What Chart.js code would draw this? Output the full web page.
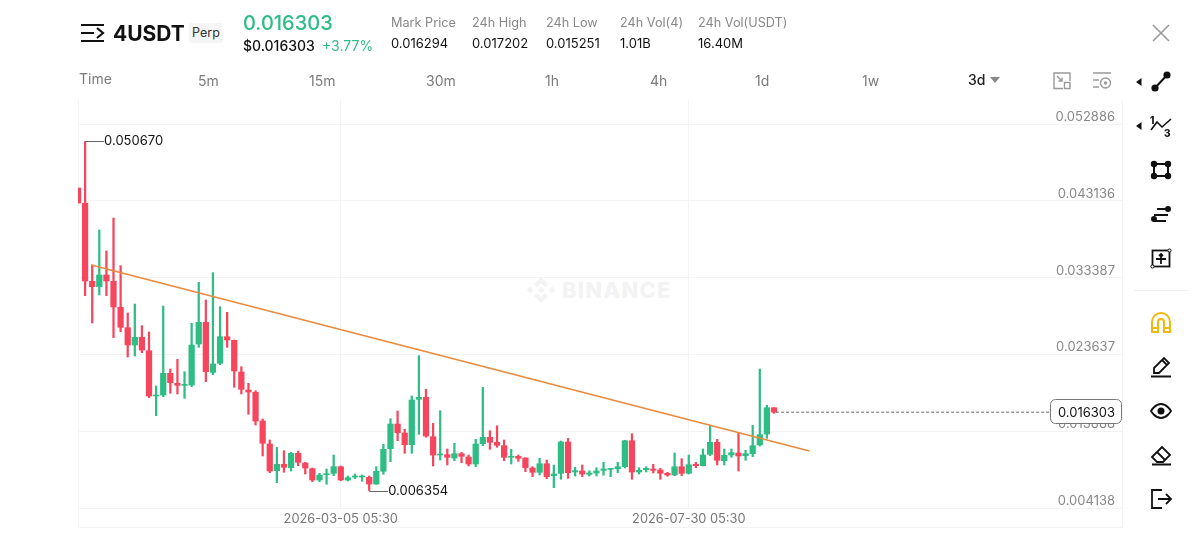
<!DOCTYPE html>
<html>
<head>
<meta charset="utf-8">
<script src="https://cdn.jsdelivr.net/npm/chart.js@4/dist/chart.umd.min.js"></script>
<style>
  html, body { margin: 0; padding: 0; background: #fff; }
  body { width: 1200px; height: 553px; overflow: hidden; position: relative; font-family: Inter, sans-serif; }
  canvas { position: absolute; left: 0; top: 0; }
  .t { position: absolute; white-space: nowrap; line-height: 1; transform: translateY(-50%); }
  .lab { font-size: 12.7px; color: #888; }
  .val { font-size: 13px; color: #111; }
  .tab { font-size: 14px; color: #7b7b7b; }
  svg.i { position: absolute; overflow: visible; }
</style>
</head>
<body>

<!-- watermark sits behind the canvas -->
<svg class="i" style="left:526px;top:277px" width="30" height="26" viewBox="0 0 30 26" fill="#f3f3f3">
  <path d="M15 0l7 7-3 3-4-4-4 4-3-3zM15 26l7-7-3-3-4 4-4-4-3 3zM15 9.5l3.500 3.500-3.500 3.500-3.500-3.500zM4 9.500l3.500 3.500-3.500 3.500-3.500-3.500zM26 9.500l3.500 3.500-3.500 3.500-3.500-3.500z"/>
</svg>
<div class="t" style="left:562px;top:290px;font-size:22px;font-weight:800;letter-spacing:1.2px;color:#f3f3f3">BINANCE</div>

<canvas id="chart" width="1200" height="553"></canvas>

<!-- header -->
<svg class="i" style="left:81px;top:23px" width="24" height="20" fill="none" stroke="#111" stroke-width="2.2">
  <path d="M0 2h23M0 10h13M0 18h23M16 5l6 5-6 5"/>
</svg>
<div class="t" style="left:113px;top:33px;font-size:21px;font-weight:700;color:#111">4USDT</div>
<div class="t" style="left:189px;top:33px;width:34px;height:20px;line-height:20px;background:#f5f5f5;border-radius:3px;text-align:center;font-size:12.5px;color:#333">Perp</div>
<div class="t" style="left:243px;top:23px;font-size:20px;font-weight:500;color:#2ebd85">0.016303</div>
<div class="t" style="left:243px;top:46px;font-size:14px;font-weight:500;color:#111">$0.016303</div>
<div class="t" style="left:322px;top:46px;font-size:14px;color:#2ebd85">+3.77%</div>

<div class="t lab" style="left:391px;top:23px">Mark Price</div>
<div class="t val" style="left:391px;top:43px">0.016294</div>
<div class="t lab" style="left:472px;top:23px">24h High</div>
<div class="t val" style="left:472px;top:43px">0.017202</div>
<div class="t lab" style="left:546px;top:23px">24h Low</div>
<div class="t val" style="left:546px;top:43px">0.015251</div>
<div class="t lab" style="left:620px;top:23px">24h Vol(4)</div>
<div class="t val" style="left:620px;top:43px">1.01B</div>
<div class="t lab" style="left:698px;top:23px">24h Vol(USDT)</div>
<div class="t val" style="left:698px;top:43px">16.40M</div>

<!-- interval tabs -->
<div class="t tab" style="left:79px;top:79px">Time</div>
<div class="t tab" style="left:198px;top:81px">5m</div>
<div class="t tab" style="left:309px;top:81px">15m</div>
<div class="t tab" style="left:426px;top:81px">30m</div>
<div class="t tab" style="left:545px;top:81px">1h</div>
<div class="t tab" style="left:650px;top:81px">4h</div>
<div class="t tab" style="left:755px;top:81px">1d</div>
<div class="t tab" style="left:862px;top:81px">1w</div>
<div class="t tab" style="left:968px;top:80px;color:#222;font-weight:500">3d</div>
<svg class="i" style="left:990px;top:77px" width="11" height="7" fill="#888"><path d="M0 0h10l-5 6z"/></svg>

<svg class="i" style="left:1053px;top:72px" width="18" height="18" fill="none" stroke="#999" stroke-width="1.4">
  <path d="M10 16.5H1V1h16v8M4 4l5 5M9 5.5V9H5.5"/><rect x="11.5" y="10.5" width="5.5" height="6"/>
</svg>
<svg class="i" style="left:1093px;top:72px" width="19" height="18" fill="none" stroke="#999" stroke-width="1.4">
  <path d="M0 1h18M0 8h6M0 15h6"/><circle cx="12.5" cy="11" r="5"/><circle cx="12.5" cy="11" r="1" fill="#999"/>
</svg>

<!-- right toolbar -->
<svg class="i" style="left:1152px;top:24px" width="18" height="18" fill="none" stroke="#999" stroke-width="1.6"><path d="M1 1l16 16M17 1L1 17"/></svg>
<svg class="i" style="left:1135px;top:71px" width="36" height="22" fill="#111" stroke="#111" stroke-width="2">
  <path d="M6.500 7v8l-5.500-4z" stroke="none"/><path d="M20 17L32 4"/><circle cx="20" cy="17" r="2.6"/><circle cx="32" cy="4" r="2.6"/>
</svg>
<svg class="i" style="left:1135px;top:115px" width="38" height="24" fill="#111">
  <path d="M6.500 7v8l-5.500-4z"/><path d="M16 15l6-8 5 5 9-8" fill="none" stroke="#111" stroke-width="1.6"/>
  <text x="15" y="9" font-size="10" font-weight="800" font-family="Inter">1</text><text x="29" y="22" font-size="10" font-weight="800" font-family="Inter">3</text>
</svg>
<svg class="i" style="left:1151px;top:161px" width="20" height="18" fill="#111" stroke="#111" stroke-width="2">
  <path d="M3 3h14v12H3z" fill="none"/><circle cx="3" cy="3" r="2.2"/><circle cx="17" cy="3" r="2.2"/><circle cx="3" cy="15" r="2.2"/><circle cx="17" cy="15" r="2.2"/>
</svg>
<svg class="i" style="left:1150px;top:204px" width="22" height="20" fill="#111" stroke="#111" stroke-width="2">
  <path d="M7 5h12M4 11h14M4 17h12" fill="none"/><circle cx="18" cy="5" r="2"/><circle cx="4" cy="15" r="2"/>
</svg>
<svg class="i" style="left:1151px;top:248px" width="21" height="21" fill="none" stroke="#111" stroke-width="1.8">
  <rect x="1.500" y="2.500" width="17" height="16"/><path d="M10 6v10M5 11h10M8 8l2-2 2 2"/><circle cx="1.500" cy="18.500" r="1.600" fill="#fff" stroke-width="1"/><circle cx="18.500" cy="2.500" r="1.600" fill="#fff" stroke-width="1"/>
</svg>
<div style="position:absolute;left:1134px;top:290px;width:54px;height:1px;background:#eee"></div>
<svg class="i" style="left:1150px;top:311px" width="22" height="23" fill="none" stroke="#f0b90b" stroke-width="2">
  <path d="M2 21V11a9 9 0 0 1 18 0v10h-6V11a3 3 0 0 0-6 0v10zM2 17h6M14 17h6"/>
</svg>
<svg class="i" style="left:1151px;top:356px" width="21" height="22" fill="none" stroke="#111" stroke-width="1.8">
  <path d="M3 12L13 2l5 5L8 17H3zM11 4l5 5M0 20.500h20"/>
</svg>
<svg class="i" style="left:1150px;top:402px" width="22" height="18" fill="none" stroke="#111" stroke-width="1.8">
  <path d="M1 9s4-7 10-7 10 7 10 7-4 7-10 7S1 9 1 9z"/><circle cx="11" cy="9" r="2.600" fill="#111"/>
</svg>
<svg class="i" style="left:1151px;top:445px" width="21" height="21" fill="none" stroke="#111" stroke-width="1.8">
  <path d="M1 12l10-10 8 8-7 7H6zM6 7l8 8M1 19.500h19"/>
</svg>
<svg class="i" style="left:1151px;top:489px" width="21" height="20" fill="none" stroke="#111" stroke-width="1.8">
  <path d="M11 1H1v18h10M7 10h13M15 5l5 5-5 5"/>
</svg>

<script>
// 3d candles, one every three days
const firstCandle = Date.UTC(2025, 10, 14, 5, 30);
const slotCount = 148;
const categories = Array.from({ length: slotCount }, (_, i) =>
    new Date(firstCandle + i * 3 * 864e5).toISOString().slice(0, 16).replace('T', ' '));
const timeTicks = ['2026-03-05 05:30', '2026-07-30 05:30'];

const priceTicks = [0.052886, 0.043136, 0.033387, 0.023637, 0.013888, 0.004138];

const opens = [
    0.044761, 0.042819, 0.032917, 0.032232, 0.033717, 0.032917, 0.029616, 0.027027, 0.024830, 0.025808,
    0.024106, 0.018356, 0.018483, 0.021237, 0.019968, 0.019714, 0.019752, 0.024957, 0.027712, 0.021364,
    0.022507, 0.025884, 0.025427, 0.021403, 0.019117, 0.018825, 0.015182, 0.012262, 0.008873, 0.009685,
    0.009253, 0.011081, 0.009850, 0.009127, 0.007692, 0.008365, 0.008544, 0.009381, 0.007692, 0.008073,
    0.008073, 0.008035, 0.007184, 0.008797, 0.011666, 0.014801, 0.013659, 0.012173, 0.017937, 0.018191,
    0.013189, 0.010866, 0.010904, 0.010485, 0.011031, 0.010612, 0.009723, 0.012300, 0.013113, 0.012478,
    0.012047, 0.010573, 0.010700, 0.010485, 0.009215, 0.008670, 0.009761, 0.008238, 0.008544, 0.012516,
    0.008708, 0.008835, 0.008416, 0.008581, 0.008924, 0.009050, 0.009127, 0.009381, 0.012681, 0.008708,
    0.009000, 0.009088, 0.008961, 0.008544, 0.008327, 0.009381, 0.008544, 0.009685, 0.009508, 0.010955,
    0.012478, 0.010142, 0.010866, 0.011120, 0.010777, 0.011031, 0.012135, 0.013532, 0.016870
];
const closes = [
    0.042857, 0.032955, 0.032232, 0.033717, 0.032955, 0.029654, 0.027077, 0.024830, 0.025808, 0.024196,
    0.018356, 0.018483, 0.021237, 0.020044, 0.019714, 0.019841, 0.024830, 0.027712, 0.021441, 0.022418,
    0.025884, 0.025465, 0.021530, 0.019206, 0.018864, 0.015182, 0.012351, 0.008835, 0.009685, 0.009304,
    0.011081, 0.009939, 0.009215, 0.007692, 0.008327, 0.008492, 0.009381, 0.007692, 0.007984, 0.008200,
    0.008200, 0.007184, 0.008797, 0.011589, 0.014801, 0.013697, 0.012173, 0.017848, 0.018191, 0.013278,
    0.010866, 0.010993, 0.010573, 0.011031, 0.010700, 0.009723, 0.012262, 0.013113, 0.012478, 0.012097,
    0.010573, 0.010700, 0.010447, 0.009253, 0.008670, 0.009761, 0.008111, 0.008454, 0.012516, 0.008619,
    0.008873, 0.008454, 0.008581, 0.008835, 0.009088, 0.009177, 0.009381, 0.012681, 0.008708, 0.008924,
    0.009177, 0.008924, 0.008544, 0.008327, 0.009381, 0.008544, 0.009634, 0.009508, 0.010866, 0.012478,
    0.010193, 0.010828, 0.011158, 0.010739, 0.011031, 0.012047, 0.013443, 0.016870, 0.016303
];
const highs = [
    0.044761, 0.050670, 0.034986, 0.039429, 0.036764, 0.040953, 0.034897, 0.028893, 0.030035, 0.027280,
    0.026481, 0.019625, 0.029781, 0.021783, 0.023014, 0.021441, 0.027585, 0.032790, 0.030543, 0.034009,
    0.029692, 0.028981, 0.025465, 0.022075, 0.019968, 0.019028, 0.015436, 0.012770, 0.011843, 0.011412,
    0.011209, 0.011373, 0.009939, 0.009215, 0.008544, 0.009088, 0.010866, 0.009469, 0.008200, 0.008454,
    0.008327, 0.008200, 0.009381, 0.012224, 0.015474, 0.016452, 0.014129, 0.018356, 0.023472, 0.019206,
    0.014890, 0.016490, 0.011627, 0.012351, 0.011209, 0.010866, 0.012859, 0.019460, 0.013951, 0.014585,
    0.012770, 0.011589, 0.010866, 0.010523, 0.009381, 0.010447, 0.010231, 0.009596, 0.012643, 0.012986,
    0.009304, 0.009596, 0.008873, 0.009253, 0.009939, 0.009177, 0.009939, 0.012732, 0.013570, 0.009253,
    0.009381, 0.009685, 0.009177, 0.008670, 0.011120, 0.010396, 0.010866, 0.009939, 0.011627, 0.014585,
    0.012859, 0.011627, 0.011627, 0.013621, 0.011463, 0.014636, 0.021783, 0.017175, 0.016870
];
const lows = [
    0.042857, 0.031089, 0.027623, 0.031178, 0.031089, 0.025757, 0.026519, 0.023307, 0.023434, 0.023853,
    0.018140, 0.015855, 0.018267, 0.018699, 0.018610, 0.018063, 0.019536, 0.024538, 0.020171, 0.021060,
    0.022329, 0.024538, 0.019460, 0.018610, 0.016033, 0.014674, 0.010739, 0.008619, 0.007350, 0.008670,
    0.008835, 0.009508, 0.008454, 0.007476, 0.007476, 0.007146, 0.008238, 0.007604, 0.007565, 0.007857,
    0.007527, 0.006354, 0.007146, 0.008416, 0.010015, 0.012682, 0.011081, 0.011081, 0.013494, 0.013113,
    0.009469, 0.010231, 0.009596, 0.010142, 0.009888, 0.009469, 0.009381, 0.012047, 0.011589, 0.011843,
    0.010142, 0.009723, 0.010066, 0.008746, 0.008111, 0.008327, 0.007857, 0.006714, 0.007781, 0.007908,
    0.008200, 0.008111, 0.008200, 0.008200, 0.008289, 0.008111, 0.008619, 0.009215, 0.007781, 0.008454,
    0.008708, 0.008581, 0.007781, 0.008162, 0.008238, 0.008238, 0.008454, 0.009253, 0.009469, 0.010777,
    0.009596, 0.009596, 0.010573, 0.008835, 0.010193, 0.010651, 0.012008, 0.012986, 0.016159
];

// drawn trend line and last-price line, x in candle slots
const trendSlots = [1.87, 103.0];
const trendPrices = [0.034986, 0.011374];
const lastPrice = 0.016303;
const lastPriceSlots = [98.3, 136.9];

const UP = '#2ebd85';
const DOWN = '#f6465d';
const GRID = '#f3f3f3';
const FONT = 'Inter, sans-serif';

const candleColors = closes.map((c, i) => (c >= opens[i] ? UP : DOWN));

const annotations = {
    id: 'annotations',
    beforeDatasetsDraw(chart) {
        const ctx = chart.ctx;
        const area = chart.chartArea;
        // outer frame of the pane, time axis strip included
        ctx.save();
        ctx.strokeStyle = GRID;
        ctx.lineWidth = 1;
        ctx.beginPath();
        ctx.moveTo(area.left + 0.5, area.top);
        ctx.lineTo(area.left + 0.5, chart.height - 26 + 0.5);
        ctx.lineTo(area.right + 0.5, chart.height - 26 + 0.5);
        ctx.lineTo(area.right + 0.5, area.top);
        ctx.stroke();
        ctx.restore();
    },
    afterDraw(chart) {
        const ctx = chart.ctx;
        const xs = chart.scales.x;
        const ys = chart.scales.y;
        ctx.save();
        ctx.font = '13px ' + FONT;
        ctx.textBaseline = 'middle';

        // highest and lowest wick markers
        const marks = [highs.indexOf(Math.max(...highs)), lows.indexOf(Math.min(...lows))];
        const prices = [highs[marks[0]], lows[marks[1]]];
        marks.forEach((idx, k) => {
            const x = xs.getPixelForValue(idx);
            const y = Math.round(ys.getPixelForValue(prices[k])) + 0.5;
            ctx.strokeStyle = '#666';
            ctx.lineWidth = 1;
            ctx.beginPath();
            ctx.moveTo(x, y);
            ctx.lineTo(x + 19, y);
            ctx.stroke();
            ctx.fillStyle = '#111';
            ctx.textAlign = 'left';
            ctx.fillText(prices[k].toFixed(6), x + 19, y);
        });

        // last price tag on the right
        const ty = ys.getPixelForValue(lastPrice);
        ctx.beginPath();
        ctx.roundRect(1050.5, Math.round(ty) - 12.5, 71, 24, 5);
        ctx.fillStyle = '#fff';
        ctx.fill();
        ctx.strokeStyle = '#777';
        ctx.stroke();
        ctx.fillStyle = '#111';
        ctx.textAlign = 'right';
        ctx.fillText(lastPrice.toFixed(6), 1115, ty + 0.5);
        ctx.restore();
    }
};

new Chart(document.getElementById('chart').getContext('2d'), {
    type: 'bar',
    data: {
        labels: categories,
        datasets: [
            {
                label: 'Trend',
                type: 'line',
                xAxisID: 'slots',
                data: trendSlots.map((x, i) => ({ x: x, y: trendPrices[i] })),
                borderColor: '#e98a3c',
                borderWidth: 1.6,
                pointRadius: 0,
                order: 0
            },
            {
                label: 'Last',
                type: 'line',
                xAxisID: 'slots',
                data: lastPriceSlots.map(x => ({ x: x, y: lastPrice })),
                borderColor: '#666',
                borderWidth: 1,
                borderDash: [3, 2],
                pointRadius: 0,
                order: 0
            },
            {
                label: 'Body',
                data: opens.map((o, i) => [o, closes[i]]),
                backgroundColor: candleColors,
                borderWidth: 0,
                borderSkipped: false,
                barThickness: 5.6,
                grouped: false,
                order: 1
            },
            {
                label: 'Wick',
                data: lows.map((l, i) => [l, highs[i]]),
                backgroundColor: candleColors,
                borderWidth: 0,
                borderSkipped: false,
                barThickness: 1.6,
                grouped: false,
                order: 2
            }
        ]
    },
    options: {
        responsive: false,
        animation: false,
        layout: { padding: { left: 78, right: 78, top: 100, bottom: 26 } },
        scales: {
            x: {
                type: 'category',
                offset: false,
                grid: { color: GRID, drawTicks: false, offset: false },
                border: { display: false },
                afterBuildTicks: scale => {
                    scale.ticks = scale.ticks.filter(t => timeTicks.includes(categories[t.value]));
                },
                afterFit: scale => { scale.height = 19; },
                ticks: {
                    autoSkip: false,
                    maxRotation: 0,
                    padding: 3,
                    color: '#777',
                    font: { family: FONT, size: 12.8 }
                }
            },
            slots: { type: 'linear', axis: 'x', offset: false, display: false, min: 0, max: slotCount - 1 },
            y: {
                position: 'right',
                min: 0.004138,
                max: 0.055933,
                grid: { color: GRID, drawTicks: false },
                border: { display: false },
                afterBuildTicks: scale => {
                    scale.ticks = priceTicks.map(v => ({ value: v }));
                },
                afterFit: scale => { scale.width = 0; },
                ticks: {
                    mirror: true,
                    padding: -7,
                    labelOffset: -7,
                    color: '#888',
                    font: { family: FONT, size: 13 },
                    callback: v => v.toFixed(6)
                }
            }
        },
        plugins: {
            legend: { display: false },
            tooltip: { enabled: false }
        }
    },
    plugins: [annotations]
});
</script>
</body>
</html>
